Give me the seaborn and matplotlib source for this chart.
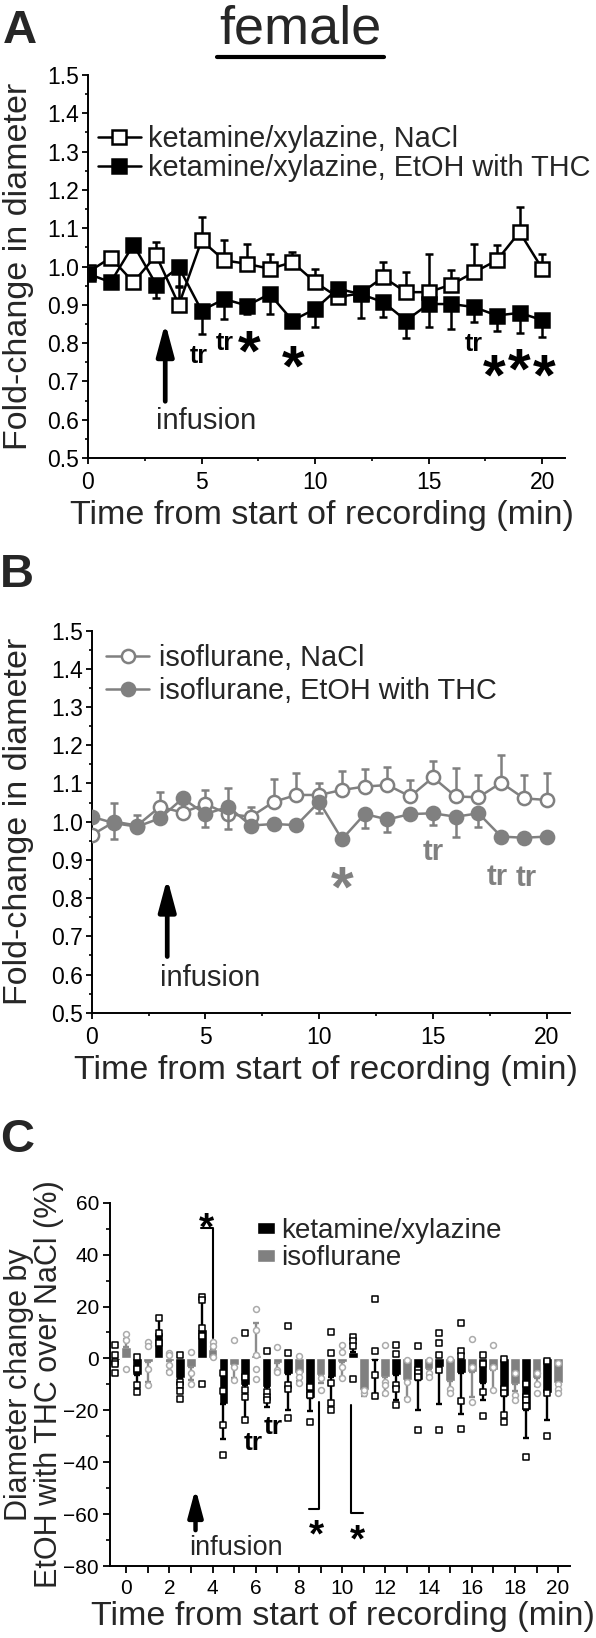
import numpy as np
import pandas as pd
import matplotlib
matplotlib.use('Agg')
import matplotlib.pyplot as plt
import seaborn as sns
from matplotlib.ticker import MultipleLocator, FuncFormatter
from matplotlib.lines import Line2D

# ---------------- data ----------------
minutes = list(range(21))

# Panel A: ketamine/xylazine (fold-change in diameter, mean and SEM)
ket_nacl = [0.985, 1.023, 0.959, 1.029, 0.900, 1.068, 1.016, 1.007, 0.994, 1.011, 0.959,
            0.920, 0.930, 0.972, 0.933, 0.933, 0.953, 0.985, 1.016, 1.090, 0.994]
ket_nacl_sem = [0.010, 0.012, 0.010, 0.035, 0.046, 0.061, 0.052, 0.053, 0.039, 0.027, 0.035,
                0.010, 0.010, 0.041, 0.052, 0.100, 0.037, 0.074, 0.039, 0.065, 0.039]
ket_thc = [0.981, 0.959, 1.057, 0.953, 0.998, 0.885, 0.915, 0.898, 0.928, 0.859, 0.889,
           0.942, 0.928, 0.907, 0.859, 0.902, 0.902, 0.894, 0.872, 0.879, 0.860]
ket_thc_sem = [0.010, 0.014, 0.010, 0.035, 0.050, 0.062, 0.053, 0.023, 0.052, 0.012, 0.048,
               0.010, 0.062, 0.038, 0.046, 0.060, 0.066, 0.039, 0.041, 0.052, 0.043]

# Panel B: isoflurane
iso_nacl = [0.965, 1.000, 0.990, 1.039, 1.024, 1.046, 1.020, 1.013, 1.052, 1.070, 1.070,
            1.083, 1.092, 1.096, 1.066, 1.116, 1.066, 1.064, 1.102, 1.061, 1.057]
iso_nacl_sem = [0.010, 0.048, 0.027, 0.040, 0.010, 0.037, 0.067, 0.026, 0.061, 0.058, 0.030,
                0.051, 0.045, 0.048, 0.043, 0.044, 0.074, 0.058, 0.072, 0.061, 0.071]
iso_thc = [1.013, 0.996, 0.987, 1.009, 1.061, 1.020, 1.039, 0.990, 0.994, 0.991, 1.052,
           0.954, 1.020, 1.006, 1.020, 1.022, 1.013, 1.022, 0.961, 0.958, 0.961]
iso_thc_sem = [0.010, 0.040, 0.010, 0.010, 0.010, 0.033, 0.059, 0.010, 0.010, 0.010, 0.028,
               0.010, 0.037, 0.032, 0.010, 0.031, 0.052, 0.035, 0.010, 0.010, 0.010]

# Panel C: diameter change by EtOH with THC over NaCl (%)
ket_pct = [-0.5, -6.5, 10.3, -7.4, 11.2, -17.4, -10.3, -11.0, -6.2, -15.2, -7.1,
           2.6, -0.5, -6.5, -8.4, -3.2, -5.5, -9.4, -14.6, -19.7, -13.5]
ket_pct_sem = [2.0, 5.8, 5.7, 5.5, 13.3, 13.6, 13.6, 7.7, 13.5, 5.1, 9.7,
               6.0, 14.3, 9.6, 11.6, 14.2, 15.8, 6.5, 7.3, 10.9, 10.4]
iso_pct = [4.5, -1.3, -1.0, -3.2, 3.5, -2.6, 1.3, -1.9, -5.8, -6.5, -1.3,
           -12.3, -7.1, -8.4, -3.9, -8.6, -5.2, -4.3, -9.7, -7.7, -9.4]
iso_pct_sem = [3.0, 7.7, 4.0, 5.2, 2.0, 5.0, 12.2, 3.0, 3.0, 3.0, 6.0,
               2.0, 7.0, 7.0, 3.0, 4.0, 9.6, 8.0, 3.0, 3.0, 3.0]
ket_pts = [[5.0, 1.3, -1.5, -2.0, -5.5], [0.6, -3.9, -10.3, -12.9], [15.7, 9.9, 6.1],
           [1.3, -9.0, -10.3, -12.6, -15.5], [23.6, 22.6, 11.6, 8.6, -9.7],
           [-5.5, -12.6, -25.8, -37.2], [9.7, -7.1, -12.3, -14.8, -23.6],
           [3.0, -12.9, -14.8, -16.1], [12.3, 1.9, -10.3, -11.6, -22.8],
           [-11.2, -14.2, -24.5], [10.0, 2.2, -9.4, -17.2, -20.0], [8.1, 6.7, 4.8, -8.1],
           [22.9, 3.0, -6.5, -14.6], [5.2, 1.7, -10.3, -11.6, -18.0],
           [4.9, -4.5, -5.5, -7.1, -27.7], [9.9, 5.8, 1.5, -4.3, -27.4],
           [13.7, 3.0, 0.9, -16.5, -27.1], [1.3, -2.3, -12.9, -22.3],
           [-0.4, -11.6, -13.3, -21.9, -24.5], [-9.7, -14.8, -16.1, -18.5, -38.0],
           [-0.9, -13.5, -30.0]]
iso_pts = [[9.4, 7.0, -3.9], [6.2, 4.8, -3.9, -10.3], [2.0, 1.3, -2.6, -5.2],
           [2.3, -5.5, -9.7], [6.5, 4.8, 0.6], [7.1, -3.5, -8.4],
           [19.0, 11.0, 1.3, -3.9, -8.1], [4.5, -4.5, -5.2], [0.9, -5.2, -7.1, -9.4],
           [-7.7, -12.3], [5.2, 2.6, -3.2, -7.7], [-13.5, -12.0],
           [5.2, -9.0, -10.3, -13.5], [-0.6, -9.0, -15.5], [-0.6, -5.5, -7.1],
           [-0.3, -11.6, -13.5], [7.4, -3.2, -16.8], [5.2, -3.2, -12.3],
           [-5.7, -14.2, -16.1], [-5.7, -9.7, -13.5], [-1.9, -9.7, -11.6, -13.5]]

ket_label = 'ketamine/xylazine'
iso_label = 'isoflurane'
GRAY = '#808080'
LIGHT = '#ababab'

# ---------------- style ----------------
sns.set_style('ticks')
plt.rcParams['font.family'] = ['Liberation Sans', 'DejaVu Sans']
plt.rcParams['axes.linewidth'] = 1.4
plt.rcParams['axes.edgecolor'] = 'black'
plt.rcParams['xtick.color'] = 'black'
plt.rcParams['ytick.color'] = 'black'

W, H = 596, 1638
fig = plt.figure(figsize=(W / 100, H / 100), dpi=100)


def px_axes(left, top, right, bottom):
    return fig.add_axes([left / W, 1 - bottom / H, (right - left) / W, (bottom - top) / H])


axA = px_axes(88, 75, 565, 458)
axB = px_axes(91.7, 630.7, 569.5, 1012.7)
axC = px_axes(110, 1202.7, 570, 1566)


def style_line_axes(ax):
    ax.set_xlim(0, 21)
    ax.set_ylim(0.5, 1.5)
    ax.xaxis.set_major_locator(MultipleLocator(5))
    ax.xaxis.set_minor_locator(MultipleLocator(2.5))
    ax.yaxis.set_major_locator(MultipleLocator(0.1))
    ax.yaxis.set_minor_locator(MultipleLocator(0.05))
    ax.yaxis.set_major_formatter(FuncFormatter(lambda v, p: f'{v:.1f}'))
    ax.tick_params(which='major', length=4.5, width=1.3, labelsize=16.5, direction='out')
    ax.tick_params(which='minor', length=2.5, width=1.2, direction='out')
    ax.tick_params(axis='x', which='major', pad=5)
    ax.tick_params(axis='y', which='major', pad=2)
    sns.despine(ax=ax)
    ax.set_xlabel('Time from start of recording (min)', fontsize=24.5)
    ax.set_ylabel('Fold-change in diameter', fontsize=24.5)
    ax.xaxis.label.set_va('center')
    ax.yaxis.label.set_va('center')


def draw_series(ax, vals, sem, marker, face, edge, label, up, z):
    err = [np.zeros(len(sem)), sem] if up else [sem, np.zeros(len(sem))]
    ax.errorbar(minutes, vals, yerr=err, fmt='none', ecolor=edge, elinewidth=1.8,
                capsize=3, capthick=1.8, zorder=z - 0.5)
    sns.lineplot(x=minutes, y=vals, ax=ax, color=edge, linewidth=1.8, marker=marker,
                 markersize=9.5, markerfacecolor=face, markeredgecolor=edge,
                 markeredgewidth=1.8, label=label, zorder=z, errorbar=None)


def mark(ax, s, x, y, size, color, frac):
    # place glyph so that its visual centre sits at (x, y)
    ax.annotate(s, xy=(x, y), xytext=(0, -frac * size), textcoords='offset points',
                ha='center', va='baseline', fontsize=size, fontweight='bold', color=color)


def infusion(ax, x, y0, y1, tx, ty, fs, ms=20, lw=3.4):
    ax.annotate('', xy=(x, y1), xytext=(x, y0),
                arrowprops=dict(arrowstyle='-|>,head_length=0.97,head_width=0.26',
                                lw=lw, color='black', shrinkA=0, shrinkB=0,
                                mutation_scale=ms))
    ax.text(tx, ty, 'infusion', fontsize=fs, ha='left', va='center')


STAR = 0.59
TR = 0.33

# ---------------- Panel A ----------------
style_line_axes(axA)
draw_series(axA, ket_nacl, ket_nacl_sem, 's', 'white', 'black', 'ketamine/xylazine, NaCl', True, 3)
draw_series(axA, ket_thc, ket_thc_sem, 's', 'black', 'black', 'ketamine/xylazine, EtOH with THC', False, 4)
axA.legend(loc='upper left', bbox_to_anchor=(0.02, 0.87), frameon=False, fontsize=20.8,
           handlelength=1.5, handletextpad=0.25, labelspacing=0.05, borderpad=0,
           borderaxespad=0)
axA.yaxis.set_label_coords(-0.146, 0.5)
axA.xaxis.set_label_coords(0.49, -0.151)
for s, x, y, fs, fr in [('tr', 4.88, 0.769, 18, TR), ('tr', 6.0, 0.804, 18, TR),
                        ('*', 7.1, 0.817, 42, STAR), ('*', 9.03, 0.779, 42, STAR),
                        ('tr', 17.0, 0.80, 18, TR), ('*', 17.9, 0.755, 42, STAR),
                        ('*', 18.97, 0.77, 42, STAR), ('*', 20.07, 0.755, 42, STAR)]:
    mark(axA, s, x, y, fs, 'black', fr)
infusion(axA, 3.4, 0.648, 0.853, 3.0, 0.596, 21)

# ---------------- Panel B ----------------
style_line_axes(axB)
draw_series(axB, iso_nacl, iso_nacl_sem, 'o', 'white', GRAY, 'isoflurane, NaCl', True, 3)
draw_series(axB, iso_thc, iso_thc_sem, 'o', GRAY, GRAY, 'isoflurane, EtOH with THC', False, 4)
axB.legend(loc='upper left', bbox_to_anchor=(0.03, 0.965), frameon=False, fontsize=20.8,
           handlelength=1.5, handletextpad=0.35, labelspacing=0.18, borderpad=0,
           borderaxespad=0)
axB.yaxis.set_label_coords(-0.154, 0.5)
axB.xaxis.set_label_coords(0.49, -0.151)
for s, x, y, fs, fr in [('*', 11.0, 0.869, 42, STAR), ('tr', 15.0, 0.924, 21, TR),
                        ('tr', 17.8, 0.86, 21, TR), ('tr', 19.08, 0.856, 21, TR)]:
    mark(axB, s, x, y, fs, GRAY, fr)
infusion(axB, 3.32, 0.647, 0.852, 3.0, 0.59, 21)

# ---------------- Panel C ----------------
ket_pos = [m - 0.5 for m in minutes]
iso_pos = [float(m) for m in minutes]

sns.barplot(x=ket_pos, y=ket_pct, native_scale=True, width=0.45, color='black',
            saturation=1, errorbar=None, ax=axC, label=ket_label, zorder=2)
sns.barplot(x=iso_pos, y=iso_pct, native_scale=True, width=0.45, color=GRAY,
            saturation=1, errorbar=None, ax=axC, label=iso_label, zorder=2)


def signed_err(vals, sem):
    lo = [e if v < 0 else 0 for v, e in zip(vals, sem)]
    hi = [e if v >= 0 else 0 for v, e in zip(vals, sem)]
    return [lo, hi]


axC.errorbar(ket_pos, ket_pct, yerr=signed_err(ket_pct, ket_pct_sem), fmt='none',
             ecolor='black', elinewidth=1.7, capsize=2.5, capthick=1.7, zorder=3)
axC.errorbar(iso_pos, iso_pct, yerr=signed_err(iso_pct, iso_pct_sem), fmt='none',
             ecolor='#8c8c8c', elinewidth=1.7, capsize=2.5, capthick=1.7, zorder=3)

ket_df = pd.DataFrame([(p, v) for p, vs in zip(ket_pos, ket_pts) for v in vs], columns=['x', 'y'])
iso_df = pd.DataFrame([(p, v) for p, vs in zip(iso_pos, iso_pts) for v in vs], columns=['x', 'y'])
sns.scatterplot(data=ket_df, x='x', y='y', marker='s', s=13, facecolor='white',
                edgecolor='black', linewidth=1.1, ax=axC, zorder=4, legend=False)
sns.scatterplot(data=iso_df, x='x', y='y', marker='o', s=18, facecolor='white',
                edgecolor=LIGHT, linewidth=1.1, ax=axC, zorder=4, legend=False)

axC.set_xlim(-0.75, 20.55)
axC.set_ylim(-80, 60)
axC.xaxis.set_major_locator(MultipleLocator(1))
axC.xaxis.set_major_formatter(FuncFormatter(lambda v, p: f'{int(round(v))}' if int(round(v)) % 2 == 0 else ''))
axC.yaxis.set_major_locator(MultipleLocator(20))
axC.yaxis.set_minor_locator(MultipleLocator(10))
axC.tick_params(which='major', length=5, width=1.3, labelsize=15, direction='out')
axC.tick_params(which='minor', length=2.8, width=1.2, direction='out')
axC.tick_params(axis='x', pad=4)
axC.tick_params(axis='y', pad=3)
sns.despine(ax=axC)
axC.set_xlabel('Time from start of recording (min)', fontsize=24.5)
axC.set_ylabel('Diameter change by\nEtOH with THC over NaCl (%)', fontsize=22, linespacing=1.0)
axC.xaxis.label.set_va('center')
axC.yaxis.label.set_va('center')
axC.xaxis.set_label_coords(0.507, -0.14)
axC.yaxis.set_label_coords(-0.165, 0.5)
axC.legend(loc='upper left', bbox_to_anchor=(0.32, 0.958), frameon=False, fontsize=20,
           handlelength=0.65, handleheight=0.33, handletextpad=0.2, labelspacing=0.05,
           borderpad=0, borderaxespad=0)

# significance brackets
axC.plot([3.47, 4.01, 4.01], [50.3, 50.3, 8.0], color='black', lw=1.5, zorder=5)
axC.plot([8.45, 8.95, 8.95], [-58.0, -58.0, -16.8], color='black', lw=1.5, zorder=5)
axC.plot([10.42, 10.42, 10.95], [-18.0, -59.7, -59.7], color='black', lw=1.5, zorder=5)
for s, x, y, fs, fr in [('*', 3.73, 54.8, 28, STAR), ('*', 8.8, -63.6, 28, STAR),
                        ('*', 10.72, -65.5, 28, STAR), ('tr', 5.9, -32.1, 19, TR),
                        ('tr', 6.79, -25.7, 19, TR)]:
    mark(axC, s, x, y, fs, 'black', fr)
infusion(axC, 3.21, -66.2, -50.1, 2.93, -73.2, 19.5, ms=17, lw=3.2)

# ---------------- figure texts ----------------
fig.text(3 / W, 1 - 31 / H, 'A', fontsize=34, fontweight='bold', ha='left', va='center')
fig.text(0 / W, 1 - 575 / H, 'B', fontsize=34, fontweight='bold', ha='left', va='center')
fig.text(0 / W, 1 - 1140 / H, 'C', fontsize=34, fontweight='bold', ha='left', va='center')
fig.text(300 / W, 1 - 30 / H, 'female', fontsize=39, ha='center', va='center')
fig.add_artist(Line2D([217 / W, 384 / W], [1 - 57 / H, 1 - 57 / H], color='black', lw=3,
                      transform=fig.transFigure))

fig.savefig('out.png', dpi=100)
